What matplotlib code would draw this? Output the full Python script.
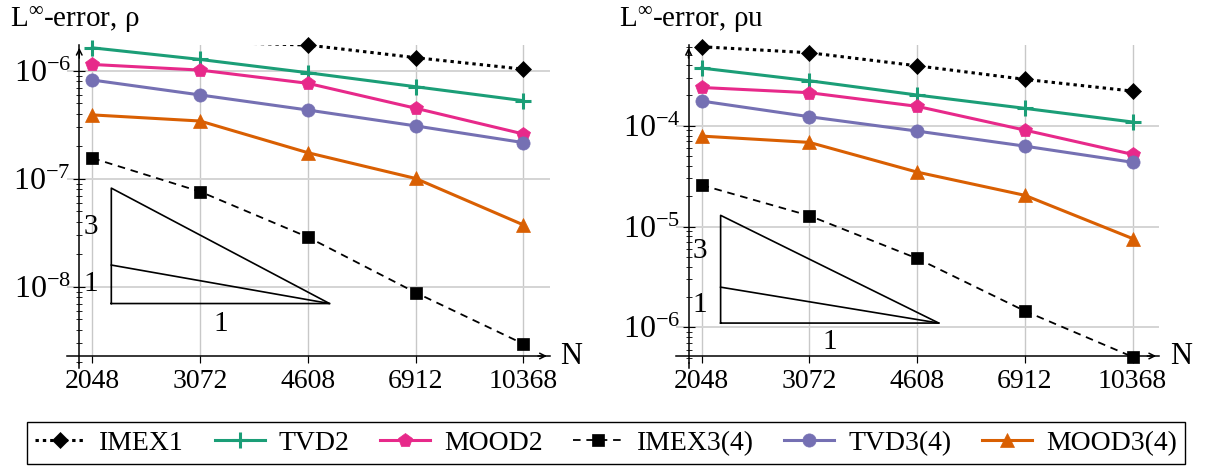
import numpy as np
import matplotlib
matplotlib.use('Agg')
import matplotlib.pyplot as plt
from matplotlib.ticker import LogLocator, NullLocator, FixedLocator, FixedFormatter

plt.rcParams['font.family'] = ['Liberation Serif', 'DejaVu Serif']
plt.rcParams['mathtext.fontset'] = 'custom'
plt.rcParams['mathtext.rm'] = 'Liberation Serif'
plt.rcParams['mathtext.it'] = 'Liberation Serif:italic'

# grid sizes
N = [2048, 3072, 4608, 6912, 10368]
N_labels = ['2048', '3072', '4608', '6912', '10368']

# L-inf error of rho
rho_imex1 = [2.1e-6, 1.86e-6, 1.74e-6, 1.33e-6, 1.04e-6]
rho_tvd2 = [1.64e-6, 1.28e-6, 9.64e-7, 7.15e-7, 5.31e-7]
rho_mood2 = [1.15e-6, 1.02e-6, 7.69e-7, 4.52e-7, 2.61e-7]
rho_imex3 = [1.56e-7, 7.63e-8, 2.89e-8, 8.85e-9, 2.96e-9]
rho_tvd3 = [8.25e-7, 6.0e-7, 4.35e-7, 3.10e-7, 2.17e-7]
rho_mood3 = [3.92e-7, 3.44e-7, 1.75e-7, 1.01e-7, 3.75e-8]

# L-inf error of rho*u
rhou_imex1 = [6.09e-4, 5.31e-4, 3.94e-4, 2.89e-4, 2.21e-4]
rhou_tvd2 = [3.74e-4, 2.80e-4, 2.02e-4, 1.49e-4, 1.09e-4]
rhou_mood2 = [2.40e-4, 2.13e-4, 1.56e-4, 9.06e-5, 5.20e-5]
rhou_imex3 = [2.58e-5, 1.28e-5, 4.82e-6, 1.45e-6, 5.08e-7]
rhou_tvd3 = [1.76e-4, 1.23e-4, 8.86e-5, 6.28e-5, 4.34e-5]
rhou_mood3 = [7.90e-5, 6.84e-5, 3.47e-5, 2.04e-5, 7.59e-6]

# slope triangles (x range, bottom value)
tri_x = [2200, 5000]
tri_y0_rho = 7.0e-9
tri_y0_rhou = 1.1e-6

labels = ['IMEX1', 'TVD2', 'MOOD2', 'IMEX3(4)', 'TVD3(4)', 'MOOD3(4)']
colors = ['black', '#1b9e77', '#e7298a', 'black', '#7570b3', '#d95f02']
markers = ['D', '+', 'p', 's', 'o', '^']
msizes = [8, 11, 10.5, 8.5, 9.5, 10]

fig = plt.figure(figsize=(12.13, 4.70), dpi=100)
W, H = 1213, 470


def style_of(i):
    kw = dict(color=colors[i], lw=2.2)
    if i == 0:
        kw.update(lw=2.2, dashes=(1.1, 1.3))
    elif i == 3:
        kw.update(lw=1.3, dashes=(4.2, 3.2))
    return kw


def panel(x0px, ylim, series, tri_y0, title):
    ax = fig.add_axes([x0px / W, (H - 363) / H, 483 / W, 318 / H])
    ax.set_xscale('log')
    ax.set_yscale('log')
    ax.set_xlim(1860, 11450)
    ax.set_ylim(*ylim)
    for i, ys in enumerate(series):
        kw = style_of(i)
        ax.plot(N, ys, zorder=3, **kw)
        # markers only for points inside the plot range
        inside = [(n, v) for n, v in zip(N, ys) if ylim[0] <= v <= ylim[1]]
        ax.plot([p[0] for p in inside], [p[1] for p in inside], ls='none',
                marker=markers[i], ms=msizes[i], color=colors[i],
                mew=2.2 if markers[i] == '+' else 0.5, clip_on=False, zorder=4)
    # slope triangle
    xa, xb = tri_x
    r = xb / xa
    ya = tri_y0
    ax.plot([xa, xb, xa, xa], [ya, ya, ya * r ** 3, ya], color='black', lw=1.2, zorder=2)
    ax.plot([xa, xb], [ya * r, ya], color='black', lw=1.2, zorder=2)
    lbl = dict(ha='center', va='center', fontsize=21)
    ax.text(xa / 1.08, np.sqrt(ya * r * ya * r ** 3), '3', **lbl)
    ax.text(xa / 1.08, np.sqrt(ya * ya * r), '1', **lbl)
    ax.text(np.sqrt(xa * xb), ya / 1.55, '1', **lbl)

    # axes lines with arrows
    for s in ['top', 'right']:
        ax.spines[s].set_visible(False)
    ax.spines['left'].set_position(('axes', 0.026))
    ax.spines['bottom'].set_position(('axes', 0.022))
    ax.spines['left'].set_linewidth(1.1)
    ax.spines['bottom'].set_linewidth(1.1)
    ax.plot([0.026, 0.026], [-0.016, 0.0], transform=ax.transAxes, color='black',
            lw=1.1, clip_on=False)
    ax.annotate('', xy=(1.0, 0.022), xytext=(0.97, 0.022), xycoords='axes fraction',
                arrowprops=dict(arrowstyle='->', lw=1.1, color='black'))
    ax.annotate('', xy=(0.026, 1.0), xytext=(0.026, 0.95), xycoords='axes fraction',
                arrowprops=dict(arrowstyle='->', lw=1.1, color='black'))
    ax.text(1.045, 0.022, 'N', transform=ax.transAxes, ha='center', va='center', fontsize=22)

    ax.xaxis.set_major_locator(FixedLocator(N))
    ax.xaxis.set_major_formatter(FixedFormatter(N_labels))
    ax.xaxis.set_minor_locator(NullLocator())
    ax.yaxis.set_major_locator(LogLocator(base=10))
    ax.yaxis.set_minor_locator(LogLocator(base=10, subs=np.arange(2, 10)))
    ax.tick_params(axis='x', which='major', direction='out', length=5, width=0.8,
                   labelsize=20, pad=4)
    ax.tick_params(axis='y', which='major', direction='inout', length=8, width=0.8,
                   labelsize=23, pad=2)
    ax.tick_params(axis='y', which='minor', direction='inout', length=5, width=0.6)
    ax.grid(True, which='major', axis='y', color='#d4d4d4', lw=1.4)
    ax.grid(True, which='major', axis='x', color='#c8c8c8', lw=1.0)
    ax.set_axisbelow(True)
    fig.text((x0px - 57) / W, (H - 27) / H, title, fontsize=21, va='baseline', ha='left')
    return ax


ax1 = panel(66.7, (10 ** -8.706, 10 ** -5.759),
            [rho_imex1, rho_tvd2, rho_mood2, rho_imex3, rho_tvd3, rho_mood3],
            tri_y0_rho, r'L$^{\infty}$-error, ρ')
ax2 = panel(676, (10 ** -6.355, 10 ** -3.198),
            [rhou_imex1, rhou_tvd2, rhou_mood2, rhou_imex3, rhou_tvd3, rhou_mood3],
            tri_y0_rhou, r'L$^{\infty}$-error, ρu')

handles = []
for i in range(6):
    h, = ax1.plot([], [], marker=markers[i], ms=msizes[i], label=labels[i],
                  mew=2.2 if markers[i] == '+' else 0.5, **style_of(i))
    handles.append(h)
fig.legend(handles=handles, loc='center', bbox_to_anchor=(606 / W, (H - 443) / H),
           ncol=6, fontsize=20, frameon=True, fancybox=False, edgecolor='black',
           framealpha=1, handlelength=1.8, handletextpad=0.5, columnspacing=1.1,
           borderpad=0.3, numpoints=1)

fig.savefig('out.png', dpi=100)
